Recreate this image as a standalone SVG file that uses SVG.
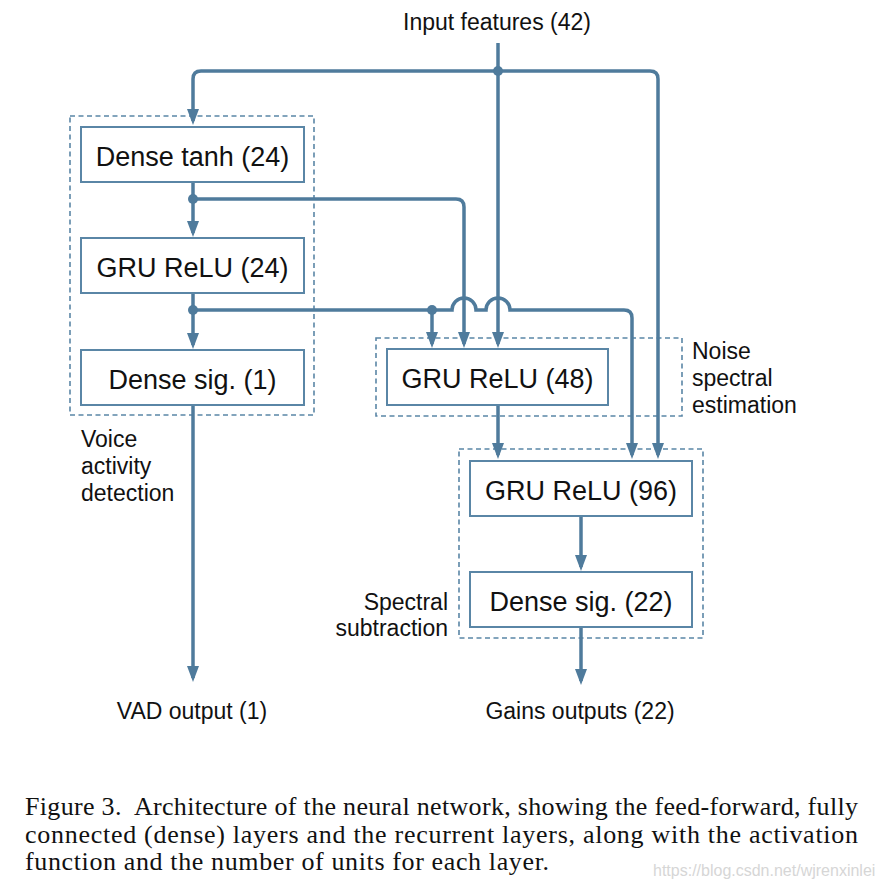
<svg xmlns="http://www.w3.org/2000/svg" width="882" height="890" viewBox="0 0 882 890">
<defs>
<marker id="ah" viewBox="0 0 16 12" markerWidth="16" markerHeight="12" refX="12" refY="6" orient="auto" markerUnits="userSpaceOnUse">
<path d="M0,0 L16,6 L0,12 z" fill="#4f7b9c"/>
</marker>
<style>
.box{fill:#fff;stroke:#5a86a6;stroke-width:2}
.grp{fill:none;stroke:#5a86a6;stroke-width:1.6;stroke-dasharray:5 3.5}
.bt{font-family:"Liberation Sans",Arial,sans-serif;font-size:27px;fill:#111;text-anchor:middle}
.lb{font-family:"Liberation Sans",Arial,sans-serif;font-size:23px;fill:#111}
.c{fill:none;stroke:#4f7b9c;stroke-width:3.5}
.a{marker-end:url(#ah)}
.dot{fill:#4f7b9c}
.cap{font-family:"Liberation Serif","Times New Roman",serif;font-size:26px;fill:#111}
</style>
</defs>
<rect width="882" height="890" fill="#fff"/>

<g id="groups">
<rect id="vad-group" class="grp" x="70" y="116" width="244" height="299"/>
<rect id="noise-group" class="grp" x="376" y="338" width="306" height="78"/>
<rect id="spectral-group" class="grp" x="459" y="449" width="244" height="189"/>
</g>

<g id="connectors">
<path class="c a" d="M498,43 V344"/>
<path class="c a" d="M498,71 H201 Q193,71 193,79 V121"/>
<path class="c a" d="M498,71 H650 Q658,71 658,79 V455"/>
<path class="c a" d="M193,182 V233"/>
<path class="c a" d="M193,199 H456 Q464,199 464,207 V344"/>
<path class="c a" d="M193,293 V345"/>
<path class="c a" d="M193,310 H452 A12,12 0 0 1 476,310 H486 A12,12 0 0 1 510,310 H624 Q632,310 632,318 V455"/>
<path class="c a" d="M432,310 V344"/>
<path class="c a" d="M193,405 V678"/>
<path class="c a" d="M498,405 V455"/>
<path class="c a" d="M581,516 V567"/>
<path class="c a" d="M581,627 V681"/>
<circle class="dot" cx="498" cy="71" r="5"/>
<circle class="dot" cx="193" cy="199" r="5"/>
<circle class="dot" cx="193" cy="310" r="5"/>
<circle class="dot" cx="432" cy="310" r="5"/>
</g>

<g id="dense-tanh-24">
<rect class="box" x="81" y="127" width="223" height="55"/>
<text class="bt" x="192.5" y="166">Dense tanh (24)</text>
</g>
<g id="gru-relu-24">
<rect class="box" x="81" y="238" width="223" height="55"/>
<text class="bt" x="192.5" y="277">GRU ReLU (24)</text>
</g>
<g id="dense-sig-1">
<rect class="box" x="81" y="350" width="223" height="55"/>
<text class="bt" x="192.5" y="389">Dense sig. (1)</text>
</g>
<g id="gru-relu-48">
<rect class="box" x="387" y="349" width="221" height="56"/>
<text class="bt" x="497.5" y="388">GRU ReLU (48)</text>
</g>
<g id="gru-relu-96">
<rect class="box" x="470" y="461" width="222" height="55"/>
<text class="bt" x="581" y="500">GRU ReLU (96)</text>
</g>
<g id="dense-sig-22">
<rect class="box" x="470" y="572" width="222" height="55"/>
<text class="bt" x="581" y="611">Dense sig. (22)</text>
</g>

<g id="labels">
<text class="lb" x="497" y="30" text-anchor="middle">Input features (42)</text>
<text class="lb" x="81" y="447">Voice</text>
<text class="lb" x="81" y="474">activity</text>
<text class="lb" x="81" y="501">detection</text>
<text class="lb" x="692" y="359">Noise</text>
<text class="lb" x="692" y="386">spectral</text>
<text class="lb" x="692" y="413">estimation</text>
<text class="lb" x="448" y="610" text-anchor="end">Spectral</text>
<text class="lb" x="448" y="636" text-anchor="end">subtraction</text>
<text class="lb" x="192" y="719" text-anchor="middle">VAD output (1)</text>
<text class="lb" x="580" y="719" text-anchor="middle">Gains outputs (22)</text>
</g>

<g id="caption">
<text class="cap" x="25" y="815" textLength="833" lengthAdjust="spacing">Figure 3.&#160; Architecture of the neural network, showing the feed-forward, fully</text>
<text class="cap" x="25" y="843" textLength="833" lengthAdjust="spacing">connected (dense) layers and the recurrent layers, along with the activation</text>
<text class="cap" x="25" y="870" textLength="524" lengthAdjust="spacing">function and the number of units for each layer.</text>
<text x="653" y="876" font-family="'Liberation Sans',Arial,sans-serif" font-size="16" fill="#d6d6d6">https://blog.csdn.net/wjrenxinlei</text>
</g>
</svg>
